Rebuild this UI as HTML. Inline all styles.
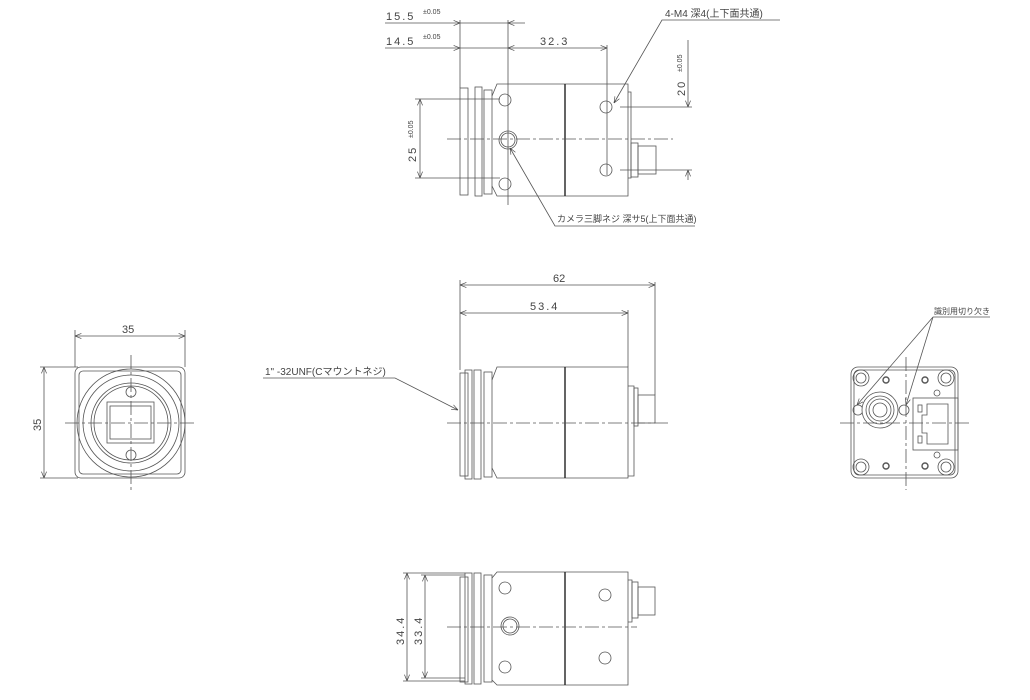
<!DOCTYPE html>
<html><head><meta charset="utf-8"><style>
html,body{margin:0;padding:0;background:#fff;}
svg{display:block;}
text{font-family:"Liberation Sans","Noto Sans CJK JP",sans-serif;fill:#444;}
</style></head><body>
<svg width="1030" height="700" viewBox="0 0 1030 700" xmlns="http://www.w3.org/2000/svg">
<defs>
<marker id="a" viewBox="0 0 10 10" refX="10" refY="5" markerWidth="8" markerHeight="8" orient="auto-start-reverse"><path d="M0,1 L10,5 L0,9" fill="none" stroke="#444" stroke-width="1"/></marker>
</defs>
<g fill="none" stroke="#555" stroke-width="0.8">

<!-- ===== TOP VIEW ===== -->
<rect x="460" y="88" width="8" height="107"/>
<rect x="475" y="87" width="7" height="109"/>
<rect x="484" y="90" width="8" height="104"/>
<path d="M492,96 L497,84 L628,84 L628,196 L497,196 L492,186"/>
<line x1="565" y1="84" x2="565" y2="196" stroke="#222" stroke-width="1.4"/>
<path d="M628,92 L631,92 L631,178 L628,178"/>
<rect x="631" y="143" width="7" height="34"/>
<rect x="638" y="146" width="18" height="28"/>
<circle cx="505" cy="100" r="6"/><circle cx="505" cy="184" r="6"/>
<circle cx="508" cy="140" r="9"/><circle cx="508" cy="140" r="7"/>
<circle cx="606" cy="107" r="6"/><circle cx="606" cy="170" r="6"/>
<line x1="447" y1="139" x2="673" y2="139" stroke-dasharray="14 3 3 3"/>
<line x1="460" y1="20" x2="460" y2="88"/>
<line x1="508" y1="20" x2="508" y2="205"/>
<line x1="607" y1="45" x2="607" y2="175"/>
<line x1="385" y1="23" x2="460" y2="23" marker-end="url(#a)"/>
<line x1="525" y1="23" x2="508" y2="23" marker-end="url(#a)"/>
<line x1="460" y1="23" x2="508" y2="23"/>
<line x1="385" y1="48" x2="460" y2="48" marker-end="url(#a)"/>
<line x1="460" y1="48" x2="508" y2="48"/>
<line x1="508" y1="48" x2="607" y2="48" marker-start="url(#a)" marker-end="url(#a)"/>
<line x1="620" y1="107" x2="692" y2="107"/>
<line x1="620" y1="170" x2="692" y2="170"/>
<line x1="688" y1="40" x2="688" y2="107" marker-end="url(#a)"/>
<line x1="688" y1="180" x2="688" y2="170" marker-end="url(#a)"/>
<line x1="415" y1="99" x2="500" y2="99"/>
<line x1="415" y1="178" x2="500" y2="178"/>
<line x1="420" y1="99" x2="420" y2="178" marker-start="url(#a)" marker-end="url(#a)"/>
<polyline points="780,20 662,20 614,103" marker-end="url(#a)"/>
<polyline points="695,226 555,226 510,148" marker-end="url(#a)"/>

<!-- ===== SIDE VIEW ===== -->
<rect x="460" y="373" width="8" height="103"/>
<rect x="465" y="370" width="7" height="109"/>
<rect x="474" y="370" width="7" height="109"/>
<rect x="484" y="372" width="8" height="105"/>
<path d="M492,380 L497,367 L628,367 L628,478 L497,478 L492,468"/>
<line x1="565" y1="367" x2="565" y2="478" stroke="#222" stroke-width="1.4"/>
<path d="M628,386 L634,386 L634,476 L628,476"/>
<rect x="634" y="388" width="4" height="38"/>
<rect x="638" y="395" width="17" height="28"/>
<line x1="447" y1="423" x2="670" y2="423" stroke-dasharray="14 3 3 3"/>
<line x1="460" y1="280" x2="460" y2="370"/>
<line x1="628" y1="310" x2="628" y2="367"/>
<line x1="655" y1="282" x2="655" y2="395"/>
<line x1="460" y1="285" x2="655" y2="285" marker-start="url(#a)" marker-end="url(#a)"/>
<line x1="460" y1="313" x2="628" y2="313" marker-start="url(#a)" marker-end="url(#a)"/>
<polyline points="263,378 395,378 458,410" marker-end="url(#a)"/>

<!-- ===== FRONT VIEW ===== -->
<rect x="75" y="367" width="110" height="111" rx="6"/>
<rect x="79" y="371" width="102" height="103" rx="4"/>
<circle cx="131" cy="423" r="54"/>
<circle cx="131" cy="423" r="48"/>
<circle cx="131" cy="423" r="40"/>
<circle cx="131" cy="423" r="37"/>
<rect x="107" y="402" width="47" height="41"/>
<rect x="110" y="406" width="41" height="33"/>
<circle cx="131" cy="392" r="5"/><circle cx="131" cy="455" r="5"/>
<line x1="131" y1="355" x2="131" y2="490" stroke-dasharray="14 3 3 3"/>
<line x1="65" y1="423" x2="196" y2="423" stroke-dasharray="14 3 3 3"/>
<line x1="75" y1="330" x2="75" y2="367"/>
<line x1="185" y1="330" x2="185" y2="367"/>
<line x1="75" y1="336" x2="185" y2="336" marker-start="url(#a)" marker-end="url(#a)"/>
<line x1="40" y1="367" x2="78" y2="367"/>
<line x1="40" y1="478" x2="78" y2="478"/>
<line x1="44" y1="367" x2="44" y2="478" marker-start="url(#a)" marker-end="url(#a)"/>

<!-- ===== BACK VIEW ===== -->
<rect x="851" y="367" width="107" height="111" rx="7"/>
<rect x="854" y="370" width="101" height="105" rx="5"/>
<circle cx="861" cy="378" r="8"/><circle cx="861" cy="378" r="5"/>
<circle cx="946" cy="378" r="8"/><circle cx="946" cy="378" r="5"/>
<circle cx="861" cy="467" r="8"/><circle cx="861" cy="467" r="5"/>
<circle cx="946" cy="467" r="8"/><circle cx="946" cy="467" r="5"/>
<circle cx="886" cy="380" r="3" stroke-width="1.4"/><circle cx="925" cy="380" r="3" stroke-width="1.4"/>
<circle cx="886" cy="466" r="3" stroke-width="1.4"/><circle cx="925" cy="466" r="3" stroke-width="1.4"/>
<circle cx="937" cy="393" r="3"/><circle cx="937" cy="455" r="3"/>
<circle cx="858" cy="410" r="5"/><circle cx="904" cy="410" r="5"/>
<circle cx="880" cy="410" r="18" fill="#fff"/>
<circle cx="880" cy="410" r="14"/>
<circle cx="880" cy="410" r="11"/>
<circle cx="880" cy="410" r="7"/>
<rect x="913" y="398" width="45" height="52"/>
<path d="M927,404 L948,404 L948,444 L927,444 L927,433 L922,433 L922,415 L927,415 Z"/>
<rect x="918" y="405" width="4" height="7"/><rect x="918" y="436" width="4" height="7"/>
<line x1="906" y1="357" x2="906" y2="490" stroke-dasharray="14 3 3 3"/>
<line x1="840" y1="423" x2="972" y2="423" stroke-dasharray="14 3 3 3"/>
<line x1="933" y1="317" x2="990" y2="317"/>
<line x1="933" y1="317" x2="857" y2="405" marker-end="url(#a)"/>
<line x1="933" y1="317" x2="906" y2="405" marker-end="url(#a)"/>

<!-- ===== BOTTOM VIEW ===== -->
<rect x="460" y="577" width="8" height="105"/>
<rect x="465" y="573" width="7" height="111"/>
<rect x="474" y="573" width="7" height="111"/>
<rect x="484" y="575" width="8" height="107"/>
<path d="M492,578 L497,572 L628,572 L628,685 L497,685 L492,680"/>
<line x1="565" y1="572" x2="565" y2="685" stroke="#222" stroke-width="1.4"/>
<path d="M628,580 L632,580 L632,622 L628,622"/>
<rect x="632" y="582" width="6" height="36"/>
<rect x="638" y="587" width="17" height="28"/>
<circle cx="505" cy="588" r="6"/><circle cx="505" cy="667" r="6"/>
<circle cx="510" cy="626" r="9"/><circle cx="510" cy="626" r="7"/>
<circle cx="605" cy="595" r="6"/><circle cx="605" cy="658" r="6"/>
<line x1="447" y1="627" x2="637" y2="627" stroke-dasharray="14 3 3 3"/>
<line x1="403" y1="573" x2="465" y2="573"/>
<line x1="403" y1="681" x2="465" y2="681"/>
<line x1="421" y1="575" x2="465" y2="575"/>
<line x1="421" y1="678" x2="465" y2="678"/>
<line x1="407" y1="573" x2="407" y2="681" marker-start="url(#a)" marker-end="url(#a)"/>
<line x1="425" y1="575" x2="425" y2="678" marker-start="url(#a)" marker-end="url(#a)"/>
</g>

<g font-size="11">
<text x="386" y="20" letter-spacing="2">15.5</text><text x="423" y="14" font-size="7">±0.05</text>
<text x="386" y="45" letter-spacing="2">14.5</text><text x="423" y="39" font-size="7">±0.05</text>
<text x="540" y="45" letter-spacing="2">32.3</text>
<text x="665" y="17" font-size="10">4-M4 深4(上下面共通)</text>
<text x="557" y="222" font-size="9">カメラ三脚ネジ 深サ5(上下面共通)</text>
<text transform="translate(685,96) rotate(-90)" letter-spacing="2">20</text>
<text transform="translate(682,72) rotate(-90)" font-size="7">±0.05</text>
<text transform="translate(416,162) rotate(-90)" letter-spacing="2">25</text>
<text transform="translate(413,138) rotate(-90)" font-size="7">±0.05</text>
<text x="553" y="282">62</text>
<text x="530" y="310" letter-spacing="2">53.4</text>
<text x="265" y="375" font-size="10">1" -32UNF(Cマウントネジ)</text>
<text x="122" y="333">35</text>
<text transform="translate(41,431) rotate(-90)">35</text>
<text x="934" y="314" font-size="8">識別用切り欠き</text>
<text transform="translate(404,645) rotate(-90)" letter-spacing="2">34.4</text>
<text transform="translate(422,645) rotate(-90)" letter-spacing="2">33.4</text>
</g>
</svg>
</body></html>
